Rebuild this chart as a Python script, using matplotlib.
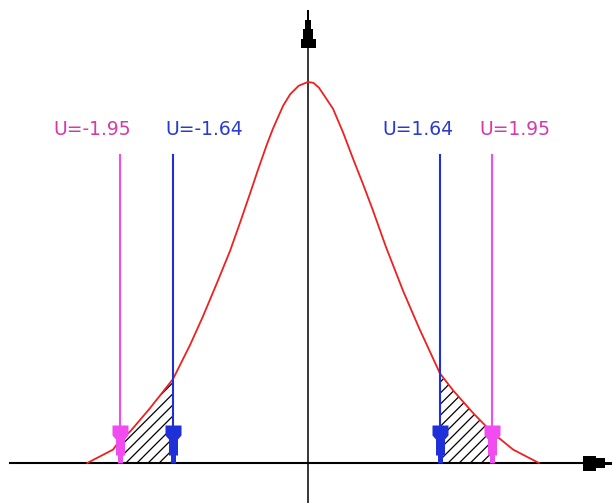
import numpy as np
import matplotlib
import matplotlib.pyplot as plt

matplotlib.rcParams['hatch.linewidth'] = 0.9

# curve (x in U units, y in density)
curve_u = [-2.83, -2.50, -2.41, -2.28, -2.03, -1.73, -1.51, -1.35, -1.17, -1.00,
           -0.87, -0.74, -0.65, -0.53, -0.45, -0.32, -0.23, -0.12, 0.00, 0.07,
           0.14, 0.32, 0.45, 0.58, 0.71, 0.83, 1.00, 1.22, 1.42, 1.69,
           1.86, 2.12, 2.36, 2.63, 2.96]
curve_y = [0.000, 0.014, 0.024, 0.033, 0.057, 0.088, 0.124, 0.153, 0.188, 0.222,
           0.252, 0.283, 0.305, 0.333, 0.350, 0.374, 0.386, 0.395, 0.399, 0.398,
           0.393, 0.371, 0.346, 0.318, 0.291, 0.265, 0.226, 0.180, 0.142, 0.094,
           0.076, 0.052, 0.032, 0.014, 0.000]

# arrows: where they are drawn, their labels and colours
arrow_u = [-2.41, -1.73, 1.69, 2.36]
arrow_labels = ['U=-1.95', 'U=-1.64', 'U=1.64', 'U=1.95']
label_u = [-2.77, -1.33, 1.41, 2.65]
line_colors = ['#f04cf0', '#2030d8', '#2030d8', '#f04cf0']
text_colors = ['#d43aa8', '#2a3ad0', '#2a3ad0', '#d43aa8']
arrow_top = 0.3225
label_y = 0.349

# hatched tails (between the arrows)
tails = [(-2.41, -1.73), (1.69, 2.36)]

# stepped arrow heads (in pixels, tip at origin)
down_head = [(-2.5, 0), (-2.5, 8), (-4.5, 8), (-4.5, 24), (-8, 28), (-8, 38),
             (8, 38), (8, 28), (4.5, 24), (4.5, 8), (2.5, 8), (2.5, 0)]
up_head = [(-1, 0), (-1, -10), (-3, -10), (-3, -19), (-5, -19), (-5, -29),
           (-7.5, -29), (-7.5, -38), (7.5, -38), (7.5, -29), (5, -29), (5, -19),
           (3, -19), (3, -10), (1, -10), (1, 0)]
right_head = [(0, -1.5), (-7, -1.5), (-7, -5), (-16, -5), (-16, -7.5), (-29, -7.5),
              (-29, 7.5), (-16, 7.5), (-16, 5), (-7, 5), (-7, 1.5), (0, 1.5)]


def msize(verts):
    return 2 * np.max(np.abs(verts)) * 0.72


fig = plt.figure(figsize=(6.13, 5.03), dpi=100)
ax = fig.add_axes([0, 0, 1, 1])
ax.set_xlim(-3.949, 3.910)
ax.set_ylim(-0.0419, 0.4848)
ax.axis('off')

cu = np.array(curve_u)
cy = np.array(curve_y)

# hatched areas
for a, b in tails:
    m = (cu >= a - 1e-9) & (cu <= b + 1e-9)
    ax.fill_between(cu[m], 0, cy[m], facecolor='white', edgecolor='black',
                    hatch='///', linewidth=0, zorder=1)

# axes with arrows
ax.plot([-3.82, 3.6], [0, 0], color='black', lw=1.5, zorder=2)
ax.plot([3.897], [0], marker=right_head, ms=msize(right_head), color='black',
        mew=0, zorder=2)
ax.plot([0, 0], [-0.05, 0.44], color='black', lw=1.1, zorder=2)
ax.plot([0], [0.474], marker=up_head, ms=msize(up_head), color='black',
        mew=0, zorder=2)

# normal curve
ax.plot(cu, cy, color='#ee2020', lw=1.3, zorder=3)

# arrows with labels
for u, lab, lu, lc, tc in zip(arrow_u, arrow_labels, label_u, line_colors, text_colors):
    ax.plot([u, u], [0.01, arrow_top], color=lc, lw=1.5, zorder=4)
    ax.plot([u], [0], marker=down_head, ms=msize(down_head), color=lc,
            mew=0, zorder=4)
    ax.text(lu, label_y, lab, color=tc, fontsize=13.5, ha='center', va='center')

fig.savefig('out.png', dpi=100)
